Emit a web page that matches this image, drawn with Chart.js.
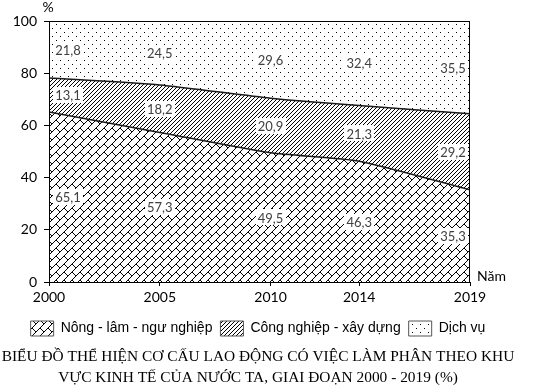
<!DOCTYPE html>
<html lang="vi">
<head>
<meta charset="utf-8">
<title>Cơ cấu lao động theo khu vực kinh tế</title>
<script src="https://cdn.jsdelivr.net/npm/chart.js@4.4.1/dist/chart.umd.min.js"></script>
<style>
  html, body { margin: 0; padding: 0; background: #fff; overflow: hidden; }
  #wrap { width: 533px; height: 385px; }
</style>
</head>
<body>
<div id="wrap"><canvas id="chart" width="533" height="385"></canvas></div>
<script>
// ------------------------------------------------------------
// Data (%)
// ------------------------------------------------------------
var years = [2000, 2005, 2010, 2014, 2019];
var nongLamNgu = [65.1, 57.3, 49.5, 46.3, 35.3];
var congNghiep = [13.1, 18.2, 20.9, 21.3, 29.2];
var dichVu = [21.8, 24.5, 29.6, 32.4, 35.5];
var yTicks = [0, 20, 40, 60, 80, 100];
var seriesNames = ['Nông - lâm - ngư nghiệp', 'Công nghiệp - xây dựng', 'Dịch vụ'];

var canvas = document.getElementById('chart');
var ctx = canvas.getContext('2d');

/* ---------- hatch patterns (pixel tiles) ---------- */
function makePattern(size, pixels) {
  var tile = document.createElement('canvas');
  tile.width = size;
  tile.height = size;
  var g = tile.getContext('2d');
  g.fillStyle = '#fff';
  g.fillRect(0, 0, size, size);
  g.fillStyle = '#000';
  pixels.forEach(function (p) { g.fillRect(p[0], p[1], 1, 1); });
  return ctx.createPattern(tile, 'repeat');
}

var brickPx = [];
for (var i = 0; i < 8; i++) brickPx.push([i, 7 - i]);
for (var j = 0; j < 4; j++) brickPx.push([j, j]);
var brick = makePattern(8, brickPx);

var diagPx = [];
for (var k = 0; k < 4; k++) diagPx.push([k, 3 - k]);
var diag = makePattern(4, diagPx);

var dots = makePattern(8, [[0, 0], [4, 4]]);

function toPoints(vals) {
  return vals.map(function (v, i) { return { x: years[i], y: v }; });
}

/* ---------- labels, border, axis captions ---------- */
var extrasPlugin = {
  id: 'extras',
  afterDatasetsDraw: function (chart) {
    var c = chart.ctx;
    var area = chart.chartArea;
    var xs = chart.scales.x;
    var ys = chart.scales.y;

    // frame round the plot
    c.save();
    c.strokeStyle = '#000';
    c.lineWidth = 1;
    c.strokeRect(area.left + 0.5, area.top + 0.5, area.right - area.left - 1, area.bottom - area.top);

    // value labels in the middle of each band
    c.font = '13px Lato';
    c.textAlign = 'center';
    c.textBaseline = 'middle';
    var series = [nongLamNgu, congNghiep, dichVu];
    years.forEach(function (yr, idx) {
      var base = 0;
      series.forEach(function (vals) {
        var v = vals[idx];
        var px = xs.getPixelForValue(yr);
        px = Math.max(area.left + 19, Math.min(area.right - 17, px));
        var py = ys.getPixelForValue(base + v / 2);
        var txt = v.toFixed(1).replace('.', ',');
        var w = c.measureText(txt).width + 4;
        c.fillStyle = '#fff';
        c.fillRect(Math.round(px - w / 2), Math.round(py - 8), Math.round(w), 16);
        c.fillStyle = '#404040';
        c.fillText(txt, px, py + 1);
        base += v;
      });
    });

    // axis captions
    c.fillStyle = '#000';
    c.font = '14px Lato';
    c.textAlign = 'center';
    c.fillText('%', area.left - 1, 7);
    c.textAlign = 'left';
    c.fillText('Năm', area.right + 7, area.bottom - 6);
    c.restore();
  }
};

new Chart(ctx, {
  type: 'line',
  data: {
    datasets: [{
      label: seriesNames[0],
      data: toPoints(nongLamNgu),
      backgroundColor: brick,
      borderColor: '#1a1a1a',
      borderWidth: 1.5,
      fill: 'origin',
      pointRadius: 0,
      tension: 0.2
    }, {
      label: seriesNames[1],
      data: toPoints(congNghiep),
      backgroundColor: diag,
      borderColor: '#1a1a1a',
      borderWidth: 1.5,
      fill: '-1',
      pointRadius: 0,
      tension: 0.2
    }, {
      label: seriesNames[2],
      data: toPoints(dichVu),
      backgroundColor: dots,
      borderColor: '#1a1a1a',
      borderWidth: 1,
      fill: '-1',
      pointRadius: 0,
      tension: 0
    }]
  },
  options: {
    responsive: false,
    devicePixelRatio: 1,
    animation: false,
    layout: { padding: { top: 21, right: 17, bottom: 0, left: 0 } },
    plugins: {
      tooltip: { enabled: false },
      legend: {
        position: 'bottom',
        labels: {
          font: { family: 'Liberation Sans', size: 14 },
          color: '#000',
          boxWidth: 23,
          boxHeight: 15,
          padding: 8,
          generateLabels: function (chart) {
            var items = Chart.defaults.plugins.legend.labels.generateLabels(chart);
            items.forEach(function (it) {
              it.lineWidth = 1;
              it.strokeStyle = '#555';
            });
            return items;
          }
        }
      },
      title: {
        display: true,
        position: 'bottom',
        text: ['BIỂU ĐỒ THỂ HIỆN CƠ CẤU LAO ĐỘNG CÓ VIỆC LÀM PHÂN THEO KHU',
               'VỰC KINH TẾ CỦA NƯỚC TA, GIAI ĐOẠN 2000 - 2019 (%)'],
        color: '#000',
        font: { family: 'Liberation Serif', size: 15.4, weight: 'normal', lineHeight: '21px' },
        padding: { top: 0, bottom: -3 }
      }
    },
    scales: {
      x: {
        type: 'linear',
        min: 2000,
        max: 2019,
        afterBuildTicks: function (scale) {
          scale.ticks = years.map(function (v) { return { value: v }; });
        },
        afterFit: function (scale) { scale.height = 31; },
        ticks: {
          autoSkip: false,
          maxRotation: 0,
          padding: 3,
          color: '#000',
          font: { family: 'Lato', size: 14 },
          callback: function (v) { return String(v); }
        },
        grid: { drawOnChartArea: false, tickLength: 4, color: '#000' },
        border: { display: false }
      },
      y: {
        stacked: true,
        min: 0,
        max: 100,
        afterBuildTicks: function (scale) {
          scale.ticks = yTicks.map(function (v) { return { value: v }; });
        },
        afterFit: function (scale) { scale.width = 49; },
        ticks: {
          padding: 7,
          color: '#000',
          font: { family: 'Lato', size: 14 }
        },
        grid: { drawOnChartArea: false, tickLength: 5, color: '#000' },
        border: { display: false }
      },
      // empty right-hand gutter that holds the "Năm" caption
      gutter: {
        type: 'linear',
        position: 'right',
        display: true,
        afterFit: function (scale) { scale.width = 46; },
        ticks: { display: false },
        grid: { display: false },
        border: { display: false }
      }
    }
  },
  plugins: [extrasPlugin]
});
</script>
</body>
</html>
